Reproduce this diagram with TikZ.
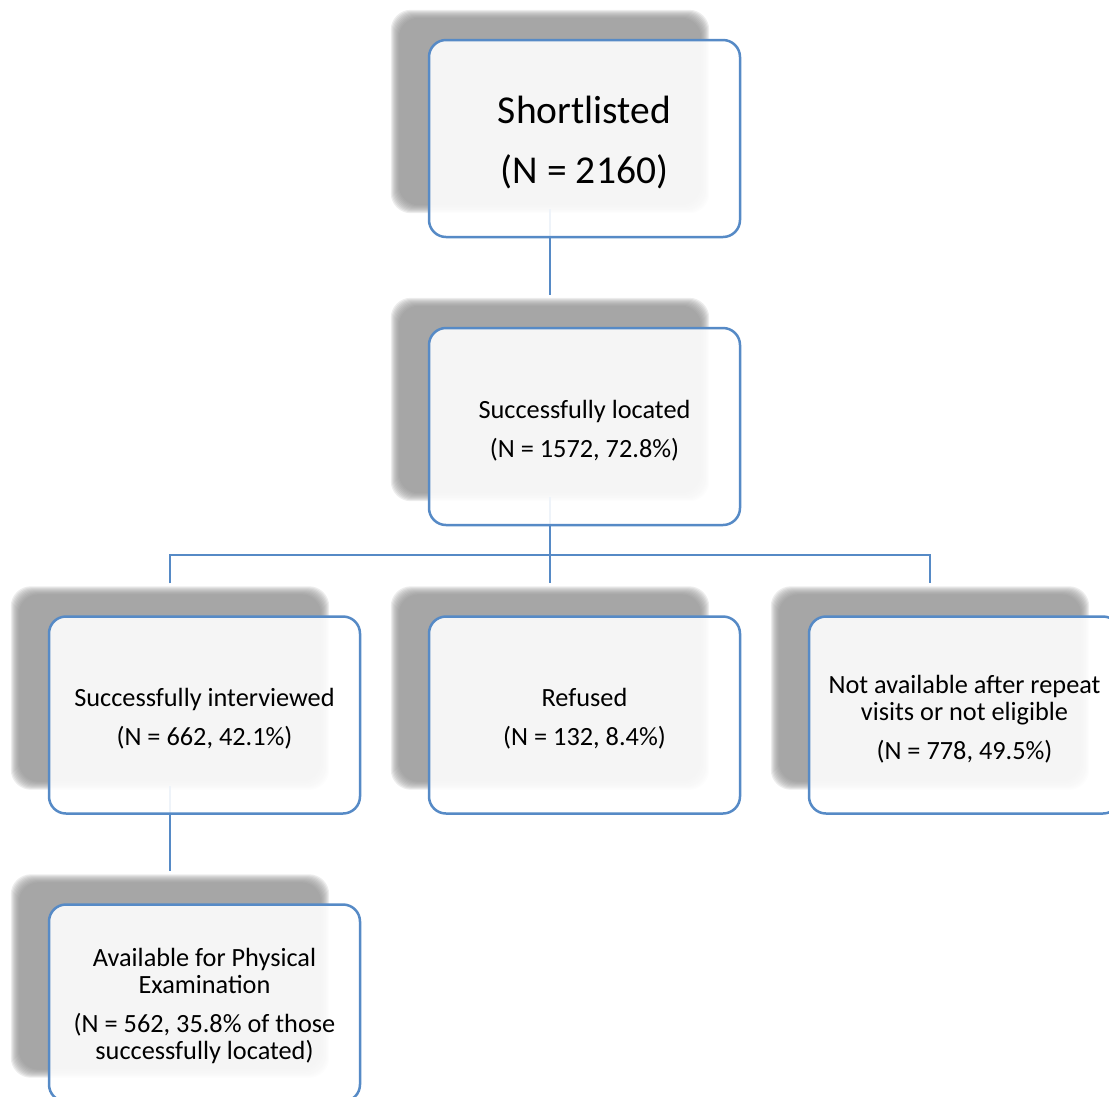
\documentclass[tikz,border=0pt]{standalone}
\usepackage{fontspec}
\setmainfont{Carlito}
\definecolor{lineblue}{RGB}{86,138,198}
\definecolor{shadowgray}{RGB}{142,142,142}
\newcommand\dropshade[1]{%
  \foreach \d in {-4,-3,...,4}{%
    \fill[shadowgray, opacity=0.16, rounded corners=20pt]
      ([shift={(\d,\d)}]#1.north west) rectangle ([shift={(-\d,-\d)}]#1.south east);
  }%
}
\begin{document}
\begin{tikzpicture}[x=1pt,y=-1pt,
  boxnode/.style={draw=lineblue, line width=2.5pt, rounded corners=17pt, fill=white,
    fill opacity=0.9, minimum width=311pt, minimum height=197pt, inner sep=0pt},
  textnode/.style={align=center, inner sep=0pt, text=black, font=\fontsize{26.3}{27}\selectfont},
  titlenode/.style={textnode, font=\fontsize{39.5}{60}\selectfont},
  shadenode/.style={minimum width=310pt, minimum height=195pt, inner sep=0pt},
  conn/.style={draw=lineblue, line width=2.8pt}]
\useasboundingbox (0,0) rectangle (1109,1096);
\clip (0,0) rectangle (1109,1096);

% shadow anchors
\node[shadenode] (s1) at (550,111.5) {};
\node[shadenode] (s2) at (550,399.5) {};
\node[shadenode] (s3) at (170,688) {};
\node[shadenode] (s4) at (550,688) {};
\node[shadenode] (s5) at (930,688) {};
\node[shadenode] (s6) at (170,976) {};
\dropshade{s1}
\dropshade{s2}
\dropshade{s3}
\dropshade{s4}
\dropshade{s5}
\dropshade{s6}

% connectors
\coordinate (bus) at (550,555);
\draw[conn, shorten >=7pt] (s1.south) -- (s2.north);
\draw[conn] (s2.south) -- (bus);
\draw[conn, shorten <=7pt, shorten >=7pt] (s3.north) -- (s3.north |- bus) -- (s5.north |- bus) -- (s5.north);
\draw[conn, shorten >=7pt] (bus) -- (s4.north);
\draw[conn, shorten >=7pt] (s3.south) -- (s6.north);

% boxes
\node[boxnode] (b1) at (584.5,138.5) {};
\node[boxnode] (b2) at (584.5,426.5) {};
\node[boxnode] (b3) at (204.5,715) {};
\node[boxnode] (b4) at (584.5,715) {};
\node[boxnode] (b5) at (964.5,715) {};
\node[boxnode] (b6) at (204.5,1003) {};

% texts
\node[titlenode] (t1) at ([yshift=-4pt]b1.center) {Shortlisted\\(N = 2160)};
\node[textnode] (t2) at ([yshift=-4pt]b2.center) {Successfully located\\[12pt](N = 1572, 72.8\%)};
\node[textnode] (t3) at ([yshift=-4pt]b3.center) {Successfully interviewed\\[12pt](N = 662, 42.1\%)};
\node[textnode] (t4) at ([yshift=-4pt]b4.center) {Refused\\[12pt](N = 132, 8.4\%)};
\node[textnode] (t5) at ([yshift=-4pt]b5.center) {Not available after repeat\\visits or not eligible\\[12pt](N = 778, 49.5\%)};
\node[textnode] (t6) at ([yshift=-3pt]b6.center) {Available for Physical\\Examination\\[12pt](N = 562, 35.8\% of those\\successfully located)};
\end{tikzpicture}
\end{document}
